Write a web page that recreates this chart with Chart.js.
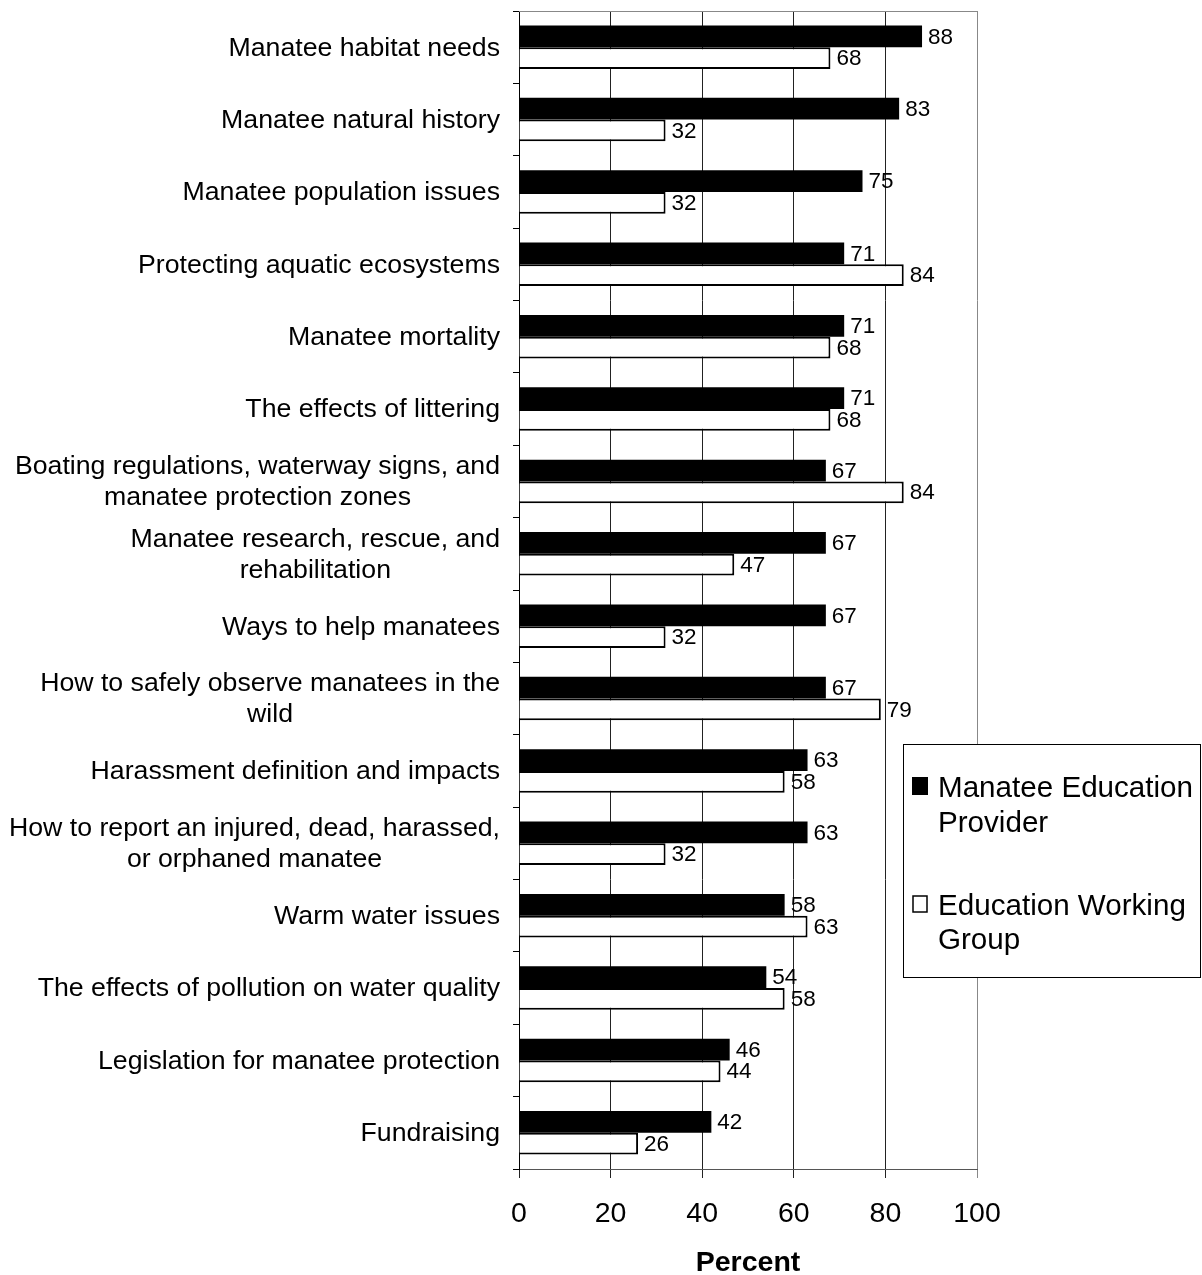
<!DOCTYPE html>
<html>
<head>
<meta charset="utf-8">
<script src="https://cdn.jsdelivr.net/npm/chart.js@4/dist/chart.umd.min.js"></script>
<style>
  html, body { margin: 0; padding: 0; background: #fff; }
  #wrap { width: 1202px; height: 1275px; }
</style>
</head>
<body>
<div id="wrap"><canvas id="chart" width="1202" height="1275"></canvas></div>
<script>
// Categories (multi-line ones are arrays)
const categories = [
    'Manatee habitat needs',
    'Manatee natural history',
    'Manatee population issues',
    'Protecting aquatic ecosystems',
    'Manatee mortality',
    'The effects of littering',
    ['Boating regulations, waterway signs, and', 'manatee protection zones'],
    ['Manatee research, rescue, and', 'rehabilitation'],
    'Ways to help manatees',
    ['How to safely observe manatees in the', 'wild'],
    'Harassment definition and impacts',
    ['How to report an injured, dead, harassed,', 'or orphaned manatee'],
    'Warm water issues',
    'The effects of pollution on water quality',
    'Legislation for manatee protection',
    'Fundraising'
];

const providerValues = [88, 83, 75, 71, 71, 71, 67, 67, 67, 67, 63, 63, 58, 54, 46, 42];
const workingGroupValues = [68, 32, 32, 84, 68, 68, 84, 47, 32, 79, 58, 32, 63, 58, 44, 26];

const seriesNames = [['Manatee Education', 'Provider'], ['Education Working', 'Group']];
const xTicks = [0, 20, 40, 60, 80, 100];

const FONT = '"Liberation Sans", Arial, sans-serif';

// Category labels: block right-aligned, lines centered inside the block
const categoryLabels = {
    id: 'categoryLabels',
    afterDraw(chart) {
        const ctx = chart.ctx;
        const yScale = chart.scales.y;
        ctx.save();
        ctx.font = '26.7px ' + FONT;
        ctx.fillStyle = '#000';
        ctx.textBaseline = 'middle';
        ctx.textAlign = 'center';
        const right = 500;
        const lineH = 31;
        categories.forEach((cat, i) => {
            const lines = Array.isArray(cat) ? cat : [cat];
            const w = Math.max(...lines.map(l => ctx.measureText(l).width));
            const cx = right - w / 2;
            const yc = yScale.getPixelForValue(i) + 1;
            const y0 = yc - (lines.length - 1) * lineH / 2;
            lines.forEach((l, j) => ctx.fillText(l, cx, y0 + j * lineH));
        });
        ctx.restore();
    }
};

// Value labels at the end of each bar
const valueLabels = {
    id: 'valueLabels',
    afterDatasetsDraw(chart) {
        const ctx = chart.ctx;
        ctx.save();
        ctx.font = '22.5px ' + FONT;
        ctx.fillStyle = '#000';
        ctx.textBaseline = 'middle';
        ctx.textAlign = 'left';
        chart.data.datasets.forEach((ds, di) => {
            chart.getDatasetMeta(di).data.forEach((bar, i) => {
                ctx.fillText(ds.data[i], bar.x + 6, bar.y + 1);
            });
        });
        ctx.restore();
    }
};

// Top frame line of the plot area
const plotFrame = {
    id: 'plotFrame',
    beforeDatasetsDraw(chart) {
        const a = chart.chartArea;
        const ctx = chart.ctx;
        ctx.save();
        ctx.strokeStyle = '#888';
        ctx.lineWidth = 1;
        ctx.beginPath();
        ctx.moveTo(a.left, a.top + 0.5);
        ctx.lineTo(a.right, a.top + 0.5);
        ctx.stroke();
        ctx.restore();
    }
};

// Boxed legend overlapping the plot on the right
const boxLegend = {
    id: 'boxLegend',
    afterDraw(chart) {
        const ctx = chart.ctx;
        ctx.save();
        ctx.fillStyle = '#fff';
        ctx.fillRect(903, 744, 298, 234);
        ctx.strokeStyle = '#000';
        ctx.lineWidth = 1;
        ctx.strokeRect(903.5, 744.5, 297, 233);
        ctx.font = '29.6px ' + FONT;
        ctx.textBaseline = 'alphabetic';
        ctx.textAlign = 'left';
        const baselines = [[797, 832], [915, 949]];
        chart.data.datasets.forEach((ds, i) => {
            const b = baselines[i];
            if (i === 0) {
                ctx.fillStyle = '#000';
                ctx.fillRect(912, b[0] - 20, 16, 18);
            } else {
                ctx.fillStyle = '#fff';
                ctx.fillRect(913, b[0] - 19, 14, 16);
                ctx.strokeStyle = '#000';
                ctx.lineWidth = 1.5;
                ctx.strokeRect(913, b[0] - 19, 14, 16);
            }
            ctx.fillStyle = '#000';
            seriesNames[i].forEach((line, j) => ctx.fillText(line, 938, b[j]));
        });
        ctx.restore();
    }
};

const chart = new Chart(document.getElementById('chart'), {
    type: 'bar',
    data: {
        labels: categories,
        datasets: [{
            label: 'Manatee Education Provider',
            data: providerValues,
            backgroundColor: '#000',
            borderColor: '#000',
            borderWidth: 0,
            categoryPercentage: 0.6,
            barPercentage: 1.0
        }, {
            label: 'Education Working Group',
            data: workingGroupValues,
            backgroundColor: '#fff',
            borderColor: '#000',
            borderWidth: 2,
            borderSkipped: 'left',
            categoryPercentage: 0.6,
            barPercentage: 1.0
        }]
    },
    options: {
        indexAxis: 'y',
        responsive: false,
        animation: false,
        layout: { padding: { left: 0, right: 225, top: 11, bottom: 0 } },
        plugins: {
            legend: { display: false },
            tooltip: { enabled: false }
        },
        scales: {
            x: {
                min: 0,
                max: 100,
                afterBuildTicks: axis => { axis.ticks = xTicks.map(v => ({ value: v })); },
                afterFit: axis => { axis.height = 106; },
                grid: {
                    color: ctx => (ctx.tick && ctx.tick.value === 100) ? '#888' : '#222',
                    lineWidth: 1,
                    tickLength: 9
                },
                border: { color: '#555', width: 1 },
                ticks: {
                    color: '#000',
                    font: { family: FONT, size: 28.5 },
                    padding: 19,
                    maxRotation: 0
                },
                title: {
                    display: true,
                    text: 'Percent',
                    color: '#000',
                    font: { family: FONT, size: 28.5, weight: 'bold', lineHeight: 0.85 },
                    padding: { top: 0, bottom: 0 }
                }
            },
            y: {
                afterFit: axis => { axis.width = 519; },
                grid: {
                    drawOnChartArea: false,
                    drawTicks: true,
                    tickLength: 6,
                    color: '#000',
                    offset: true
                },
                border: { color: '#000', width: 1 },
                ticks: { display: false }
            }
        }
    },
    plugins: [plotFrame, valueLabels, categoryLabels, boxLegend]
});
</script>
</body>
</html>
